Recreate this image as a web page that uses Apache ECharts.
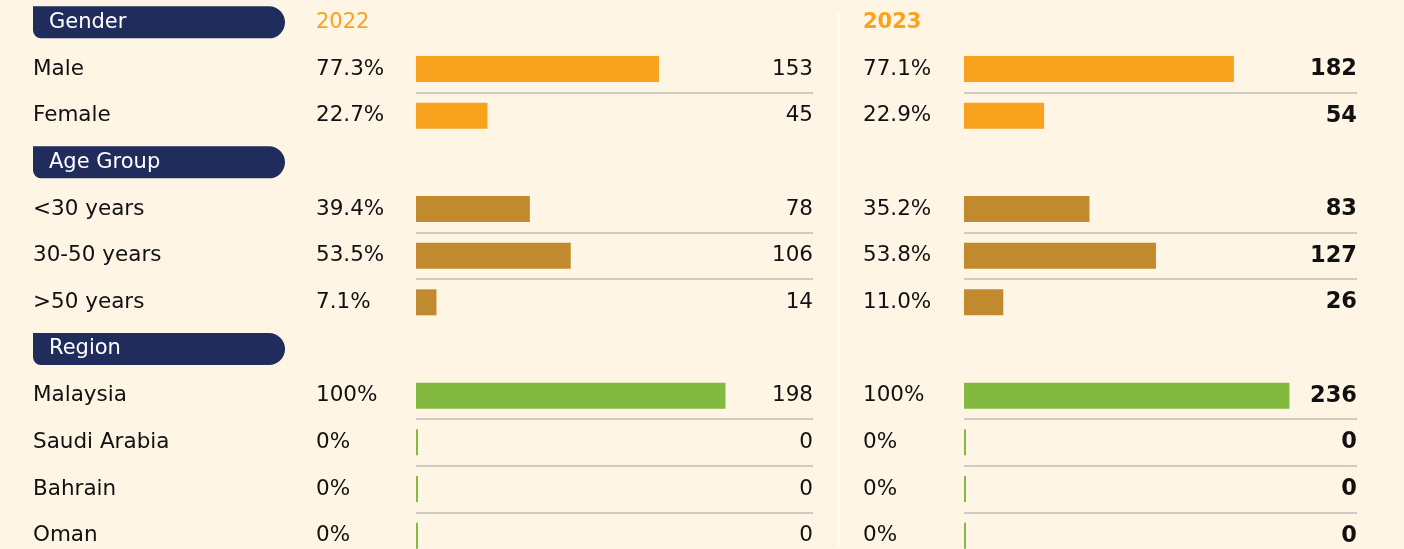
<!DOCTYPE html>
<html>
<head>
<meta charset="utf-8">
<script src="https://cdn.jsdelivr.net/npm/echarts@6/dist/echarts.min.js"></script>
<style>
  html, body { margin: 0; padding: 0; background: #FFF5E5; }
  #chart { width: 1404px; height: 549px; }
</style>
</head>
<body>
<div id="chart"></div>
<script>
// Workforce breakdown by gender, age group and region
const years = ['2022', '2023'];
const sections = ['Gender', 'Age Group', 'Region'];

const genderLabels = ['Male', 'Female'];
const gender2022 = [153, 45];
const gender2023 = [182, 54];
const genderPct2022 = ['77.3%', '22.7%'];
const genderPct2023 = ['77.1%', '22.9%'];

const ageLabels = ['<30 years', '30-50 years', '>50 years'];
const age2022 = [78, 106, 14];
const age2023 = [83, 127, 26];
const agePct2022 = ['39.4%', '53.5%', '7.1%'];
const agePct2023 = ['35.2%', '53.8%', '11.0%'];

const regionLabels = ['Malaysia', 'Saudi Arabia', 'Bahrain', 'Oman'];
const region2022 = [198, 0, 0, 0];
const region2023 = [236, 0, 0, 0];
const regionPct2022 = ['100%', '0%', '0%', '0%'];
const regionPct2023 = ['100%', '0%', '0%', '0%'];

// styling
const FONT = 'DejaVu Sans';
const FONT_SIZE = 21.5;
const TEXT = '#111111';
const NAVY = '#1F2C5C';
const YEAR_COLOR = '#F9A21E';
const sectionColors = ['#F9A21E', '#C18A2E', '#83B941'];
// value-axis ceiling for each section, per year
const sectionAxisMax = [[250, 265], [272, 260], [254, 285]];

const groups = [
  { title: sections[0], labels: genderLabels, counts: [gender2022, gender2023], pcts: [genderPct2022, genderPct2023] },
  { title: sections[1], labels: ageLabels, counts: [age2022, age2023], pcts: [agePct2022, agePct2023] },
  { title: sections[2], labels: regionLabels, counts: [region2022, region2023], pcts: [regionPct2022, regionPct2023] }
];

// one row per section header, then one per item
const rows = [];
groups.forEach((g, gi) => {
  rows.push({ header: true, gi, text: g.title });
  g.labels.forEach((lab, i) => rows.push({ header: false, gi, i, text: lab }));
});
const cats = rows.map(r => r.text);

const separatorBefore = idx => idx > 0 && !rows[idx].header && !rows[idx - 1].header;

const grids = [
  { left: 416, top: -1, width: 397, height: 560, outerBoundsMode: 'none' },
  { left: 964, top: -1, width: 393, height: 560, outerBoundsMode: 'none' }
];

const baseLabel = { interval: 0, fontFamily: FONT, fontSize: FONT_SIZE, color: TEXT, hideOverlap: false };

function catAxis(gridIndex, position, extra) {
  return Object.assign({
    type: 'category', gridIndex, position, inverse: true, data: cats,
    axisLine: { show: false }, axisTick: { show: false }, splitLine: { show: false }
  }, extra);
}

const yAxes = [];
const xAxes = [];
const mainY = [];

years.forEach((yr, yi) => {
  const bold = yi === 1;
  // main axis of each panel: percentage column (with the year on top) and row separators
  const pctFormatter = (v, idx) => {
    const r = rows[idx];
    if (r.header) return idx === 0 ? '{yr|' + yr + '}' : '';
    return groups[r.gi].pcts[yi][r.i];
  };
  const pctLabel = Object.assign({}, baseLabel, {
    align: 'left', margin: yi === 0 ? 100 : 101, formatter: pctFormatter,
    rich: { yr: { color: YEAR_COLOR, fontFamily: FONT, fontSize: 21, fontWeight: bold ? 'bold' : 'normal' } }
  });
  const splitLine = {
    show: true, interval: separatorBefore,
    lineStyle: { color: '#C2BEB6', width: 1.5 }
  };
  mainY.push(yAxes.length);
  yAxes.push(catAxis(yi, 'left', { axisLabel: pctLabel, splitLine }));

  if (yi === 0) {
    // row names and section header pills
    yAxes.push(catAxis(yi, 'left', {
      axisLabel: Object.assign({}, baseLabel, {
        align: 'left', margin: 383,
        formatter: (v, idx) => rows[idx].header ? '{hdr|' + v + '}' : v,
        rich: {
          hdr: {
            backgroundColor: NAVY, color: '#FFFFFF', fontFamily: FONT, fontSize: 21,
            borderRadius: [0, 16, 16, 8], width: 220, height: 24, lineHeight: 24,
            padding: [4, 16, 4, 16]
          }
        }
      })
    }));
  }

  // head-count column, right aligned to the panel edge
  yAxes.push(catAxis(yi, 'right', {
    axisLabel: Object.assign({}, baseLabel, {
      align: 'right', margin: 0,
      fontSize: bold ? 22.5 : FONT_SIZE, fontWeight: bold ? 'bold' : 'normal',
      formatter: (v, idx) => {
        const r = rows[idx];
        return r.header ? '' : String(groups[r.gi].counts[yi][r.i]);
      }
    })
  }));

  groups.forEach((g, gi) => {
    xAxes.push({ type: 'value', gridIndex: yi, min: 0, max: sectionAxisMax[gi][yi], show: false });
  });
});

const series = [];
years.forEach((yr, yi) => {
  groups.forEach((g, gi) => {
    series.push({
      type: 'bar',
      name: yr + ' ' + g.title,
      xAxisIndex: yi * 3 + gi,
      yAxisIndex: mainY[yi],
      barWidth: 26,
      barGap: '-100%',
      barMinHeight: 2,
      silent: true,
      itemStyle: { color: sectionColors[gi] },
      data: rows.map(r => (!r.header && r.gi === gi) ? g.counts[yi][r.i] : '-')
    });
  });
});

const chart = echarts.init(document.getElementById('chart'), null, { renderer: 'canvas' });
chart.setOption({
  backgroundColor: '#FFF5E5',
  animation: false,
  textStyle: { fontFamily: FONT },
  grid: grids,
  xAxis: xAxes,
  yAxis: yAxes,
  series,
  graphic: [{
    type: 'rect', silent: true,
    shape: { x: 837, y: 13, width: 3, height: 533 },
    style: { fill: '#FFFDF8' }
  }]
});
</script>
</body>
</html>
